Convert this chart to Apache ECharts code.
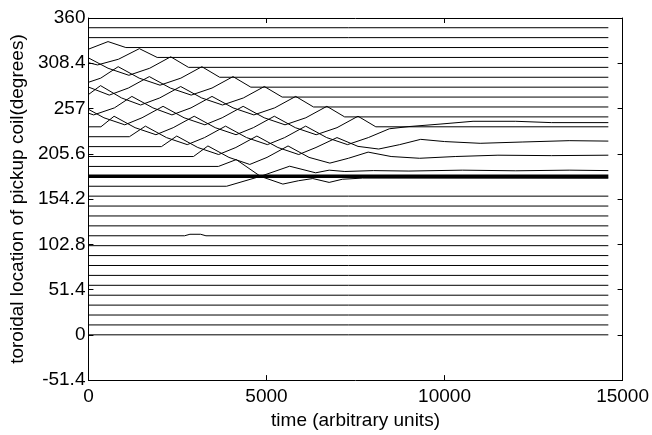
<!DOCTYPE html>
<html><head><meta charset="utf-8">
<script src="https://cdn.jsdelivr.net/npm/echarts@6/dist/echarts.min.js"></script>
<style>html,body{margin:0;padding:0;background:#fff}#c{width:652px;height:435px}</style>
</head><body><div id="c"></div>
<script>
// ---- data ----
const xTicks = [0, 5000, 10000, 15000];
const yTicks = [-51.4, 0, 51.4, 102.8, 154.2, 205.6, 257, 308.4, 359.8];
const tEnd = 14600;
const straightLevels = [0, 11.25, 22.5, 33.75, 45, 56.25, 67.5, 78.75, 90, 101.25, 123.75, 135, 146.25, 157.5, 337.5, 348.75];
const boldLevel = 180;
const line112 = [[0,112.5],[2700,112.5],[2850,114.2],[3150,114.2],[3300,112.5],[14600,112.5]];
const line326 = [[0,324.4],[550,333],[1050,326.25],[14600,326.25]];
const line315 = [[0,309],[255,306.5],[845,313],[1430,325],[1930,315],[14600,315]];
const line304 = [[0,314.5],[550,302.75],[1135,294.75],[1720,302.75],[2310,315.75],[2810,303.75],[14600,303.75]];
const line292 = [[0,286.8],[345,291.5],[835,304.5],[1425,291.5],[2010,283.5],[2595,291.5],[3185,304.5],[3685,292.5],[14600,292.5]];
const line281 = [[0,281.4],[50,280.25],[585,272.25],[1120,280.25],[1710,293.25],[2300,280.25],[2885,272.25],[3470,280.25],[4060,293.25],[4560,281.25],[14600,281.25]];
const line270 = [[0,272.9],[340,283],[930,269],[1465,261],[2000,269],[2590,282],[3180,269],[3765,261],[4350,269],[4940,282],[5440,270],[14600,270]];
const line259 = [[0,251.7],[145,249.75],[730,257.75],[1220,270.75],[1810,257.75],[2345,249.75],[2880,257.75],[3470,270.75],[4060,257.75],[4645,249.75],[5230,257.75],[5820,270.75],[6320,258.75],[14600,258.75]];
const line248 = [[0,256.1],[435,246.5],[1020,238.5],[1505,246.5],[2095,259.5],[2685,246.5],[3270,238.5],[3755,246.5],[4345,259.5],[4935,246.5],[5520,238.5],[6105,246.5],[6695,259.5],[7195,247.5],[14600,247.5]];
const line236 = [[0,236.25],[350,236.25],[720,248.25],[1310,235.25],[1895,227.25],[2380,235.25],[2970,248.25],[3560,235.25],[4145,227.25],[4630,235.25],[5220,248.25],[5810,235.25],[6395,227.25],[6980,235.25],[7570,248.25],[8070,236.25],[14600,236.25]];
const line225 = [[0,225],[1150,225],[1600,237],[2190,224],[2775,216],[3260,224],[3850,237],[4440,224],[5025,216],[5510,224],[6100,237],[6690,224],[7275,216],[7860,224],[8450,234],[9000,236.5],[9900,239.4],[10800,242.5],[12000,242.5],[13000,241],[14600,241]];
const line214 = [[0,213.75],[2050,213.75],[2480,225.75],[3070,212.75],[3655,204.75],[4140,212.75],[4730,225.75],[5320,212.75],[5905,204.75],[6390,212.75],[6980,224],[7570,214],[8150,211],[8740,216],[9330,222],[10000,219.5],[11000,217.5],[12200,219],[13500,220.5],[14600,220]];
const line203 = [[0,202.5],[2950,202.5],[3355,214.5],[3945,201.5],[4530,193.5],[5015,201.5],[5605,214.5],[6195,201.5],[6780,195],[7300,200.5],[7855,207.5],[8500,202.5],[9300,200.5],[10300,202.5],[11500,204],[13000,203.5],[14600,204]];
const line191 = [[0,191.25],[3650,191.25],[4150,199],[4830,180],[5460,171.2],[5900,175],[6300,177.5],[6760,173.1],[7130,176.7],[7700,178],[14600,177.8]];
const line169 = [[0,168.75],[3880,168.75],[4830,180],[5650,191.5],[6380,184],[6760,187],[7200,185.5],[8000,186.5],[9000,186],[10500,187],[12000,186.3],[13500,187],[14600,186.5]];

const wavy = [line112, line326, line315, line304, line292, line281, line270, line259, line248, line236, line225, line214, line203, line191, line169];

// ---- chart ----
const FONT = '"Liberation Sans", Arial, sans-serif';
const series = [];
straightLevels.forEach(v => series.push({type:'line', data:[[0,v],[tEnd,v]], showSymbol:false, symbol:'none', lineStyle:{color:'#000', width:1}}));
wavy.forEach(d => series.push({type:'line', data:d, showSymbol:false, symbol:'none', lineStyle:{color:'#000', width:1}}));
series.push({type:'line', data:[[0,boldLevel],[tEnd,boldLevel]], showSymbol:false, symbol:'none', lineStyle:{color:'#000', width:3.5}, z:3});

function axisCommon() {
  return {
    axisLine:{show:true, onZero:false, lineStyle:{color:'#000', width:1}},
    axisTick:{show:true, inside:true, length:5, lineStyle:{color:'#000'}},
    splitLine:{show:false}
  };
}
const chart = echarts.init(document.getElementById('c'), null, {renderer:'canvas'});
chart.setOption({
  animation:false,
  backgroundColor:'#fff',
  grid:{left:83, right:28, top:18, bottom:46, containLabel:false},
  xAxis:[
    Object.assign({type:'value', min:xTicks[0], max:xTicks[xTicks.length-1], interval:5000, position:'bottom',
      name:'time (arbitrary units)', nameLocation:'middle', nameGap:24,
      nameTextStyle:{color:'#000', fontSize:19, fontFamily:FONT},
      axisLabel:{color:'#000', fontSize:19, fontFamily:FONT, margin:7, formatter: v => String(v)}}, axisCommon()),
    Object.assign({type:'value', min:xTicks[0], max:xTicks[xTicks.length-1], interval:5000, position:'top', axisLabel:{show:false}}, axisCommon())
  ],
  yAxis:[
    Object.assign({type:'value', min:yTicks[0], max:yTicks[yTicks.length-1], interval:51.4, position:'left',
      name:'toroidal location of pickup coil(degrees)', nameLocation:'middle', nameGap:56,
      nameTextStyle:{color:'#000', fontSize:19, fontFamily:FONT},
      axisLabel:{color:'#000', fontSize:19, fontFamily:FONT, margin:3,
        formatter: v => { const r = Math.round(v*10)/10; return r > 359 ? '360' : String(r); }}}, axisCommon()),
    Object.assign({type:'value', min:yTicks[0], max:yTicks[yTicks.length-1], interval:51.4, position:'right', axisLabel:{show:false}}, axisCommon())
  ],
  series: series
});
</script></body></html>
